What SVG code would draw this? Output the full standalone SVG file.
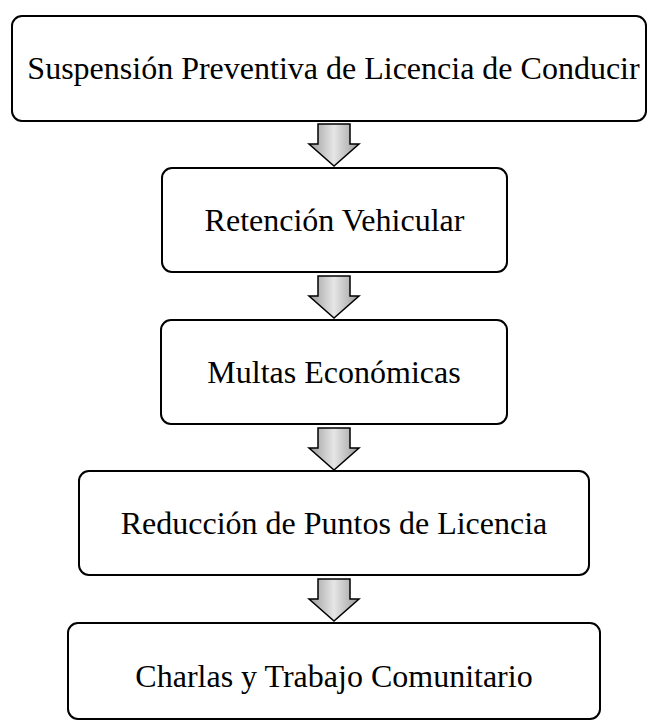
<svg xmlns="http://www.w3.org/2000/svg" width="648" height="722" viewBox="0 0 648 722">
<style>
.box{fill:#fff;stroke:#000;stroke-width:2}
.t{font-family:"Liberation Serif","Times New Roman",serif;font-size:32px;fill:#000;text-anchor:middle}
.arr{fill:url(#g);stroke:#000;stroke-width:1.5;stroke-linejoin:miter}
</style>
<defs>
<linearGradient id="g" x1="0" y1="0" x2="1" y2="0">
<stop offset="0" stop-color="#9a9a9a"/>
<stop offset="0.5" stop-color="#e6e6e6"/>
<stop offset="1" stop-color="#9a9a9a"/>
</linearGradient>
<path id="a" d="M-16,0 H16 V20 H25 L0,42 L-25,20 H-16 Z"/>
</defs>
<g id="connectors">
<use href="#a" class="arr" x="334" y="124"/>
<use href="#a" class="arr" x="334" y="276"/>
<use href="#a" class="arr" x="334" y="428"/>
<use href="#a" class="arr" x="334" y="579"/>
</g>
<g id="n1"><rect class="box" x="12" y="16" width="634" height="105" rx="10"/><text class="t" x="333.5" y="79">Suspensión Preventiva de Licencia de Conducir</text></g>
<g id="n2"><rect class="box" x="162" y="168" width="345" height="104" rx="10"/><text class="t" x="334.5" y="231">Retención Vehicular</text></g>
<g id="n3"><rect class="box" x="161" y="320" width="346" height="104" rx="10"/><text class="t" x="334" y="383">Multas Económicas</text></g>
<g id="n4"><rect class="box" x="79" y="471" width="510" height="104" rx="10"/><text class="t" x="334" y="534">Reducción de Puntos de Licencia</text></g>
<g id="n5"><rect class="box" x="68" y="623" width="532" height="96" rx="10"/><text class="t" x="334" y="687">Charlas y Trabajo Comunitario</text></g>
</svg>
